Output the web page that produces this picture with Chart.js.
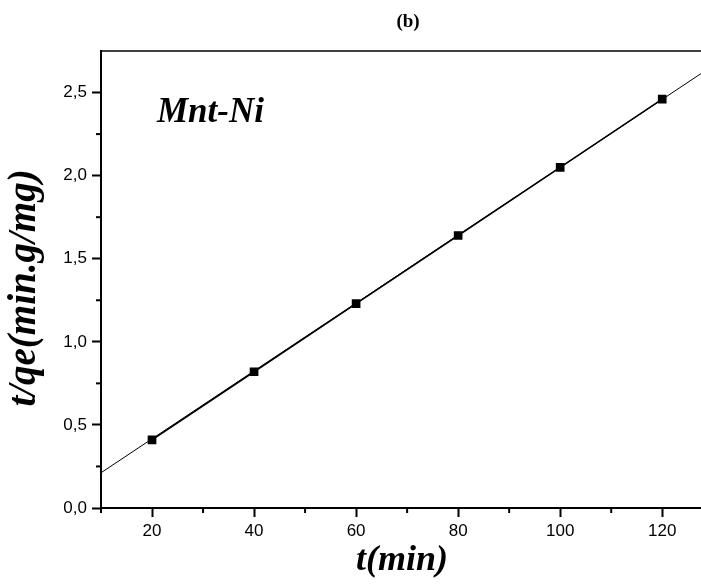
<!DOCTYPE html>
<html>
<head>
<meta charset="utf-8">
<script src="https://cdn.jsdelivr.net/npm/chart.js@4.4.0/dist/chart.umd.min.js"></script>
<style>
  html, body { margin: 0; padding: 0; background: #fff; }
  #wrap { width: 701px; height: 584px; position: relative; }
</style>
</head>
<body>
<div id="wrap"><canvas id="kinetic_chart"></canvas></div>
<script>
// measured points t (min) vs t/qe
const timeMin = [20, 40, 60, 80, 100, 120];
const tOverQe = [0.41, 0.82, 1.23, 1.64, 2.05, 2.46];

// pseudo-second order fit, ends of the line
const fitX = [10, 127.6];
const fitY = [0.212, 2.614];

// axis ticks
const xMajor = [20, 40, 60, 80, 100, 120];
const xMinor = [10, 30, 50, 70, 90, 110];
const yMajor = [0, 0.5, 1.0, 1.5, 2.0, 2.5];
const yMinor = [0.25, 0.75, 1.25, 1.75, 2.25];

const chartTitle = "(b)";
const sampleName = "Mnt-Ni";
const xTitle = "t(min)";
const yTitle = "t/qe(min.g/mg)";

const serif = "'Liberation Serif', 'Times New Roman', serif";
const ctx = document.getElementById("kinetic_chart").getContext("2d");

// minor ticks, titles, frame top
const extras = {
  id: "extras",
  afterDraw(chart) {
    const c = chart.ctx;
    const area = chart.chartArea;
    const xs = chart.scales.x, ys = chart.scales.y;
    const midX = (area.left + area.right) / 2;
    c.save();
    c.strokeStyle = "#000";
    c.lineWidth = 2;
    xMinor.forEach(v => {
      const px = xs.getPixelForValue(v);
      c.beginPath();
      c.moveTo(px, area.bottom);
      c.lineTo(px, area.bottom + 5);
      c.stroke();
    });
    yMinor.forEach(v => {
      const py = ys.getPixelForValue(v);
      c.beginPath();
      c.moveTo(area.left, py);
      c.lineTo(area.left - 5, py);
      c.stroke();
    });
    // top frame line
    c.lineWidth = 1.5;
    c.beginPath();
    c.moveTo(area.left, area.top);
    c.lineTo(area.right, area.top);
    c.stroke();

    c.fillStyle = "#000";
    c.textAlign = "center";
    c.textBaseline = "alphabetic";
    c.font = "bold 19px " + serif;
    c.fillText(chartTitle, midX + 7, 27);

    c.textAlign = "left";
    c.font = "italic bold 35px " + serif;
    c.fillText(sampleName, 157, 122);

    c.textAlign = "center";
    c.font = "italic bold 36px " + serif;
    c.fillText(xTitle, midX + 1, 570);

    c.save();
    c.translate(35, 288);
    c.rotate(-Math.PI / 2);
    c.font = "italic bold 39px " + serif;
    c.fillText(yTitle, 0, 0);
    c.restore();
    c.restore();
  }
};

new Chart(ctx, {
  type: "scatter",
  data: {
    datasets: [
      {
        label: "fit",
        data: fitX.map((x, i) => ({ x: x, y: fitY[i] })),
        showLine: true,
        borderColor: "#000",
        borderWidth: 1,
        pointRadius: 0,
        order: 2
      },
      {
        label: sampleName,
        data: timeMin.map((x, i) => ({ x: x, y: tOverQe[i] })),
        showLine: true,
        borderColor: "#000",
        backgroundColor: "#000",
        borderWidth: 1.6,
        pointStyle: "rect",
        pointRadius: 5,
        order: 1
      }
    ]
  },
  options: {
    responsive: true,
    maintainAspectRatio: false,
    animation: false,
    clip: false,
    layout: { autoPadding: false, padding: { top: 51, right: 0, left: 0, bottom: 0 } },
    plugins: { legend: { display: false }, tooltip: { enabled: false } },
    scales: {
      x: {
        type: "linear",
        min: 10,
        max: 127.6,
        afterBuildTicks: s => { s.ticks = xMajor.map(v => ({ value: v })); },
        afterFit: s => { s.height = 76; s.paddingLeft = 0; s.paddingRight = 0; },
        grid: { drawOnChartArea: false, tickLength: 9, tickWidth: 2, tickColor: "#000" },
        border: { color: "#000", width: 2 },
        ticks: {
          color: "#000",
          padding: 4,
          maxRotation: 0,
          font: { family: "'Liberation Sans', Arial, sans-serif", size: 17 },
          callback: v => String(v)
        }
      },
      y: {
        type: "linear",
        min: 0,
        max: 2.75,
        afterBuildTicks: s => { s.ticks = yMajor.map(v => ({ value: v })); },
        afterFit: s => { s.width = 101; s.paddingTop = 0; s.paddingBottom = 0; },
        grid: { drawOnChartArea: false, tickLength: 9, tickWidth: 2, tickColor: "#000" },
        border: { color: "#000", width: 2 },
        ticks: {
          color: "#000",
          padding: 5,
          font: { family: "'Liberation Sans', Arial, sans-serif", size: 17 },
          callback: v => v.toFixed(1).replace(".", ",")
        }
      }
    }
  },
  plugins: [extras]
});
</script>
</body>
</html>
